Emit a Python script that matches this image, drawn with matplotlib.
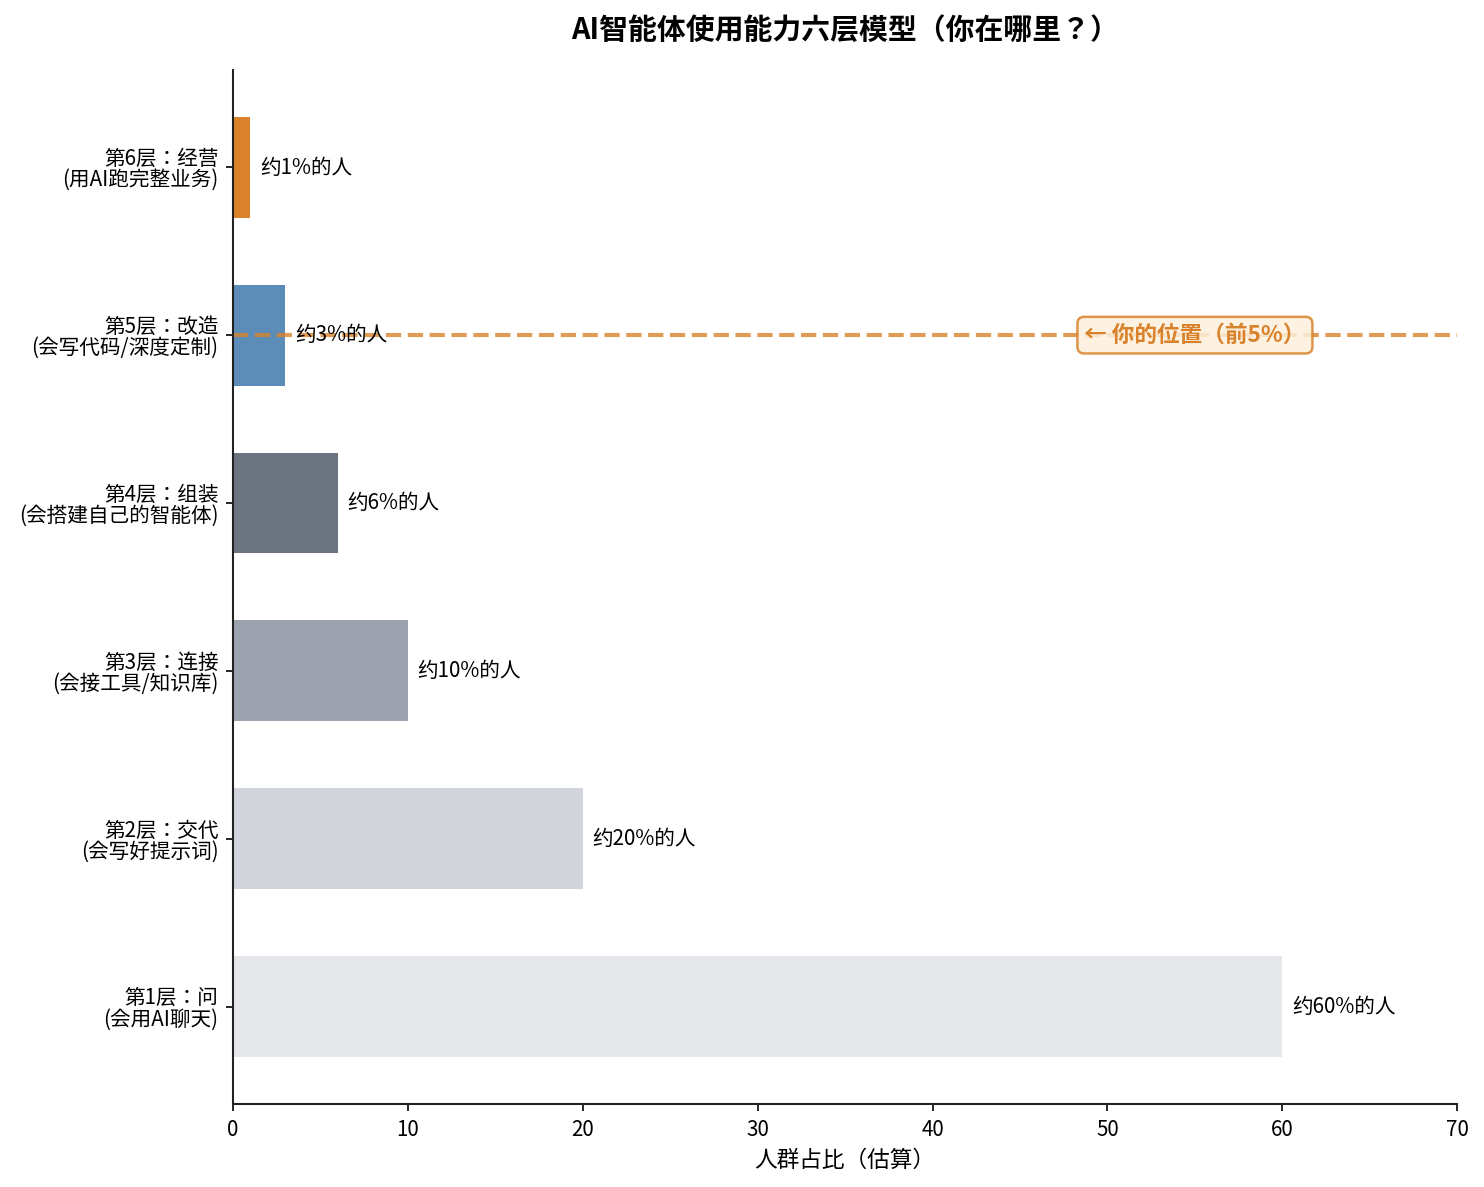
import matplotlib
matplotlib.use("Agg")
import matplotlib.pyplot as plt

plt.rcParams['font.family'] = ['Noto Sans CJK JP', 'DejaVu Sans']

# Data
levels = ['第1层：问\n(会用AI聊天)',
          '第2层：交代\n(会写好提示词)',
          '第3层：连接\n(会接工具/知识库)',
          '第4层：组装\n(会搭建自己的智能体)',
          '第5层：改造\n(会写代码/深度定制)',
          '第6层：经营\n(用AI跑完整业务)']
shares = [60, 20, 10, 6, 3, 1]
value_labels = ['约60%的人', '约20%的人', '约10%的人', '约6%的人', '约3%的人', '约1%的人']
colors = ['#e5e7eb', '#d1d5db', '#9ca3af', '#6b7280', '#5b8db8', '#d9822b']
you_level = 4
you_text = '← 你的位置（前5%）'

fig, ax = plt.subplots(figsize=(10, 8), dpi=148.4)
fig.subplots_adjust(left=0.157, right=0.982, top=0.9409, bottom=0.0700)

y = list(range(len(levels)))
ax.barh(y, shares, height=0.6, color=colors)
ax.set_yticks(y)
ax.set_yticklabels(levels, fontsize=10, linespacing=0.95)
ax.tick_params(axis='x', labelsize=10)

for yi, v, lab in zip(y, shares, value_labels):
    ax.text(v + 0.55, yi, lab, va='center', ha='left', fontsize=10)

# marker line for "you are here"
ax.axhline(you_level, color='#d9822b', linestyle='--', linewidth=2, alpha=0.8)
ax.text(55, you_level, you_text, va='center', ha='center', fontsize=11,
        fontweight='bold', color='#d9822b',
        bbox=dict(boxstyle='round,pad=0.3', facecolor='#fdf0dc', edgecolor='#d9822b',
                  alpha=0.85, linewidth=1.2))

ax.set_xlim(0, 70)
ax.set_xlabel('人群占比（估算）', fontsize=11)
ax.set_title('AI智能体使用能力六层模型（你在哪里？）', fontsize=14, fontweight='bold', pad=15)

for s in ['top', 'right']:
    ax.spines[s].set_visible(False)
for s in ['left', 'bottom']:
    ax.spines[s].set_color('#222222')
    ax.spines[s].set_linewidth(1.0)

fig.savefig('out.png', dpi=148.4)
